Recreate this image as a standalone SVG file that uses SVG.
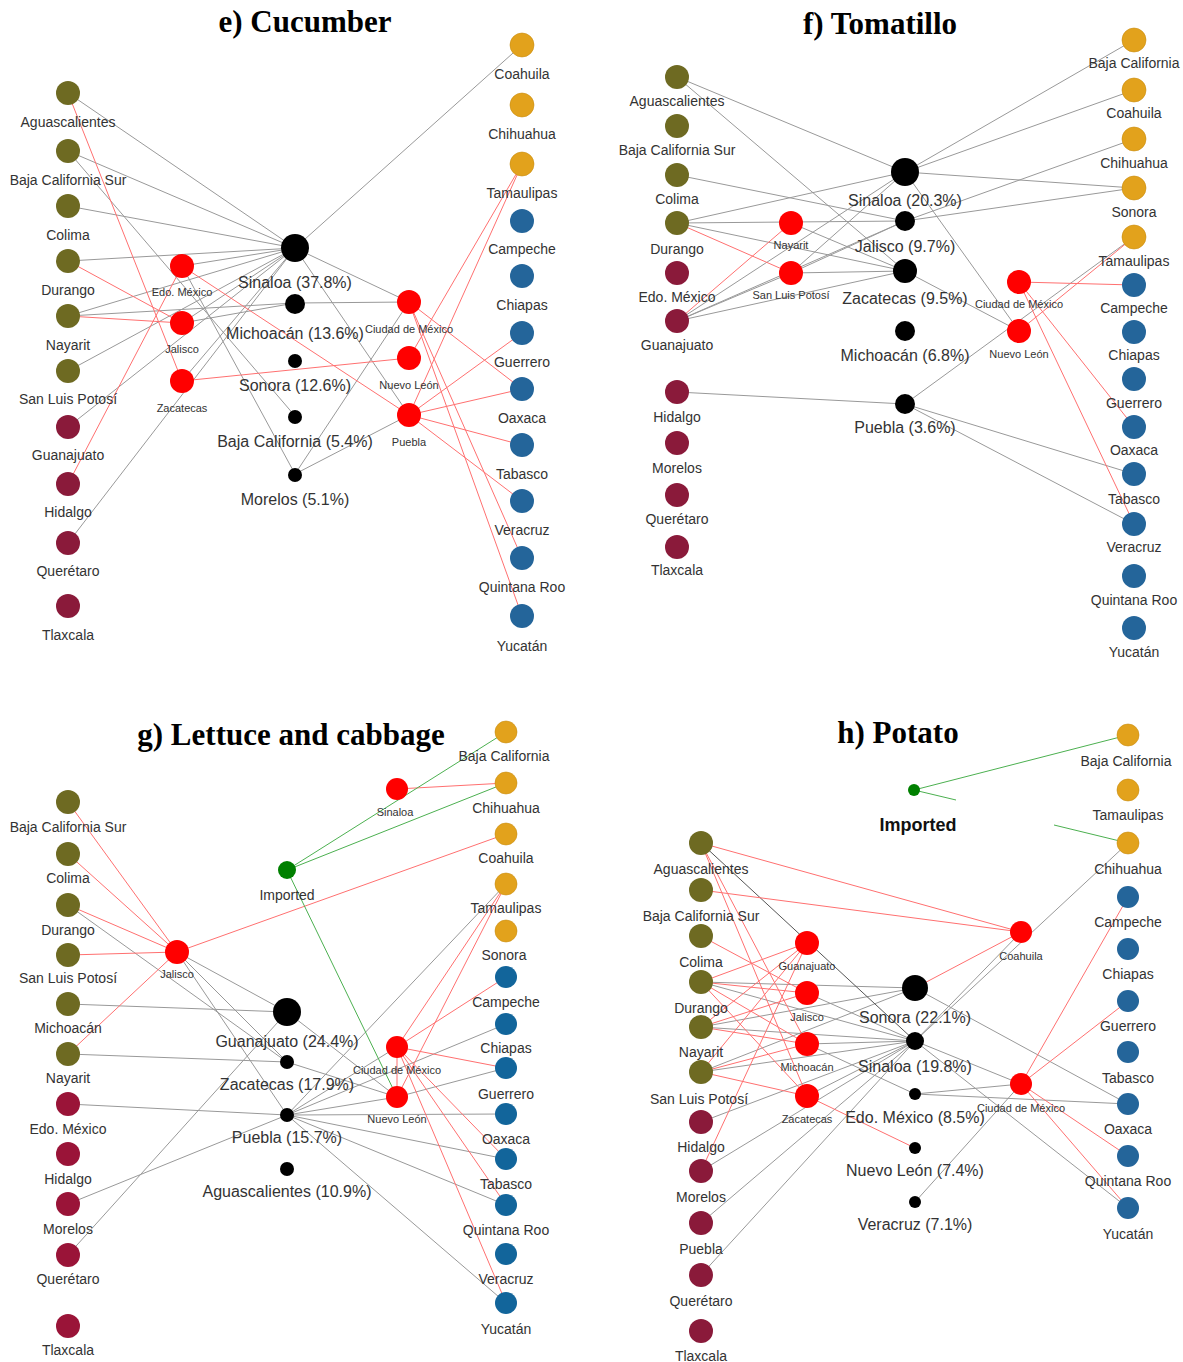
<svg xmlns="http://www.w3.org/2000/svg" width="1183" height="1362" viewBox="0 0 1183 1362">
<style>
text{font-family:"Liberation Sans",Arial,sans-serif;fill:#333;text-anchor:middle}
.t{font-size:14px}.s{font-size:11px}.p{font-size:16px}
.h{font-family:"Liberation Serif","Times New Roman",serif;font-weight:bold;font-size:31px;fill:#000}
.imp{font-weight:bold;font-size:18px;fill:#111}
.o{fill:#6e6a22}.m{fill:#8a1a3a}.mg{fill:#9a1438}.y{fill:#e2a21c;stroke:#c98d10;stroke-width:0.6}.b{fill:#24659a}.bg{fill:#12659b}.r{fill:#ff0000}.k{fill:#000}.gn{fill:#008000}
.eg line{stroke:#999;stroke-width:1}
.er line{stroke:#ff7070;stroke-width:1}
.en line{stroke:#4cb050;stroke-width:1}
.ed line{stroke:#555;stroke-width:1}
</style>
<rect width="1183" height="1362" fill="#fff"/>
<g id="titles">
<text class="h" x="305" y="32">e) Cucumber</text>
<text class="h" x="880" y="34">f) Tomatillo</text>
<text class="h" x="291" y="745">g) Lettuce and cabbage</text>
<text class="h" x="898" y="743">h) Potato</text>
</g>
<g id="connectors">
<g id="e-edges">
<g class="eg">
<line x1="68" y1="93" x2="295" y2="248"/><line x1="68" y1="151" x2="295" y2="248"/><line x1="68" y1="151" x2="295" y2="416"/><line x1="68" y1="206" x2="295" y2="248"/><line x1="68" y1="261" x2="295" y2="248"/><line x1="68" y1="316" x2="295" y2="248"/><line x1="68" y1="316" x2="295" y2="303"/><line x1="68" y1="371" x2="295" y2="248"/><line x1="68" y1="427" x2="295" y2="248"/><line x1="68" y1="543" x2="295" y2="248"/><line x1="182" y1="266" x2="295" y2="248"/><line x1="182" y1="266" x2="295" y2="474"/><line x1="182" y1="323" x2="295" y2="248"/><line x1="182" y1="323" x2="295" y2="303"/><line x1="182" y1="381" x2="295" y2="248"/><line x1="295" y1="248" x2="522" y2="45"/><line x1="295" y1="248" x2="409" y2="302"/><line x1="295" y1="248" x2="409" y2="415"/><line x1="295" y1="303" x2="409" y2="302"/><line x1="295" y1="474" x2="409" y2="302"/><line x1="295" y1="474" x2="409" y2="415"/>
</g>
<g class="er">
<line x1="68" y1="93" x2="182" y2="381"/><line x1="68" y1="261" x2="182" y2="323"/><line x1="68" y1="316" x2="182" y2="323"/><line x1="68" y1="484" x2="182" y2="266"/><line x1="182" y1="266" x2="409" y2="415"/><line x1="182" y1="381" x2="409" y2="358"/><line x1="409" y1="358" x2="522" y2="164"/><line x1="409" y1="415" x2="522" y2="164"/><line x1="409" y1="415" x2="522" y2="333"/><line x1="409" y1="415" x2="522" y2="389"/><line x1="409" y1="415" x2="522" y2="445"/><line x1="409" y1="415" x2="522" y2="501"/><line x1="409" y1="302" x2="522" y2="389"/><line x1="409" y1="302" x2="522" y2="558"/><line x1="409" y1="302" x2="522" y2="616"/>
</g>
</g>
<g id="f-edges">
<g class="eg">
<line x1="677" y1="77" x2="905" y2="172"/><line x1="677" y1="77" x2="905" y2="271"/><line x1="677" y1="175" x2="905" y2="221"/><line x1="677" y1="223" x2="905" y2="172"/><line x1="677" y1="223" x2="905" y2="221"/><line x1="677" y1="223" x2="905" y2="271"/><line x1="677" y1="321" x2="905" y2="172"/><line x1="677" y1="321" x2="905" y2="221"/><line x1="677" y1="321" x2="791" y2="273"/><line x1="677" y1="321" x2="905" y2="271"/><line x1="791" y1="223" x2="905" y2="271"/><line x1="791" y1="273" x2="905" y2="172"/><line x1="791" y1="273" x2="905" y2="221"/><line x1="791" y1="273" x2="905" y2="271"/><line x1="677" y1="392" x2="905" y2="404"/><line x1="905" y1="172" x2="1134" y2="40"/><line x1="905" y1="172" x2="1134" y2="90"/><line x1="905" y1="172" x2="1134" y2="188"/><line x1="905" y1="172" x2="1019" y2="331"/><line x1="905" y1="221" x2="1134" y2="139"/><line x1="905" y1="221" x2="1134" y2="188"/><line x1="905" y1="271" x2="1019" y2="331"/><line x1="905" y1="404" x2="1134" y2="237"/><line x1="905" y1="404" x2="1134" y2="474"/><line x1="905" y1="404" x2="1134" y2="524"/>
</g>
<g class="er">
<line x1="677" y1="223" x2="791" y2="273"/><line x1="677" y1="321" x2="791" y2="223"/><line x1="1019" y1="282" x2="1134" y2="285"/><line x1="1019" y1="282" x2="1134" y2="427"/><line x1="1019" y1="282" x2="1134" y2="524"/><line x1="1019" y1="331" x2="1134" y2="237"/>
</g>
</g>
<g id="g-edges">
<g class="eg">
<line x1="68" y1="905" x2="287" y2="1062"/><line x1="68" y1="1004" x2="287" y2="1012"/><line x1="68" y1="1054" x2="287" y2="1062"/><line x1="68" y1="1104" x2="287" y2="1115"/><line x1="68" y1="1204" x2="287" y2="1115"/><line x1="68" y1="1255" x2="287" y2="1012"/><line x1="177" y1="952" x2="287" y2="1012"/><line x1="177" y1="952" x2="287" y2="1062"/><line x1="177" y1="952" x2="287" y2="1115"/><line x1="287" y1="1012" x2="397" y2="1097"/><line x1="287" y1="1062" x2="397" y2="1097"/><line x1="506" y1="884" x2="287" y2="1115"/><line x1="287" y1="1115" x2="397" y2="1047"/><line x1="287" y1="1115" x2="397" y2="1097"/><line x1="287" y1="1115" x2="506" y2="1024"/><line x1="397" y1="1097" x2="506" y2="1068"/><line x1="287" y1="1115" x2="506" y2="1114"/><line x1="287" y1="1115" x2="506" y2="1159"/><line x1="287" y1="1115" x2="506" y2="1205"/><line x1="287" y1="1115" x2="506" y2="1303"/>
</g>
<g class="er">
<line x1="68" y1="802" x2="177" y2="952"/><line x1="68" y1="854" x2="177" y2="952"/><line x1="68" y1="905" x2="177" y2="952"/><line x1="68" y1="955" x2="177" y2="952"/><line x1="68" y1="1054" x2="177" y2="952"/><line x1="177" y1="952" x2="506" y2="834"/><line x1="397" y1="789" x2="506" y2="783"/><line x1="397" y1="1047" x2="397" y2="1097"/><line x1="397" y1="1047" x2="506" y2="977"/><line x1="397" y1="1047" x2="506" y2="1068"/><line x1="397" y1="1047" x2="506" y2="1159"/><line x1="397" y1="1047" x2="506" y2="1205"/><line x1="397" y1="1047" x2="506" y2="1303"/><line x1="397" y1="1097" x2="506" y2="884"/><line x1="397" y1="1047" x2="506" y2="884"/>
</g>
<g class="en">
<line x1="287" y1="870" x2="506" y2="732"/><line x1="287" y1="870" x2="506" y2="783"/><line x1="287" y1="870" x2="397" y2="1097"/>
</g>
</g>
<g id="h-edges">
<g class="eg">
<line x1="701" y1="982" x2="915" y2="988"/><line x1="701" y1="982" x2="915" y2="1041"/><line x1="701" y1="1027" x2="915" y2="988"/><line x1="701" y1="1027" x2="915" y2="1041"/><line x1="701" y1="1072" x2="915" y2="988"/><line x1="701" y1="1072" x2="915" y2="1041"/><line x1="701" y1="1122" x2="915" y2="1041"/><line x1="701" y1="1171" x2="915" y2="1041"/><line x1="701" y1="1223" x2="915" y2="1041"/><line x1="701" y1="1275" x2="915" y2="1041"/><line x1="807" y1="993" x2="915" y2="1041"/><line x1="807" y1="1044" x2="915" y2="1041"/><line x1="807" y1="1044" x2="915" y2="1094"/><line x1="807" y1="1096" x2="915" y2="1041"/><line x1="915" y1="988" x2="1128" y2="1104"/><line x1="915" y1="1041" x2="1021" y2="932"/><line x1="915" y1="1041" x2="1128" y2="843"/><line x1="915" y1="1041" x2="1021" y2="1084"/><line x1="915" y1="1041" x2="1128" y2="1208"/><line x1="915" y1="1094" x2="1021" y2="1084"/><line x1="915" y1="1094" x2="1128" y2="1104"/><line x1="915" y1="1202" x2="1021" y2="1084"/>
</g>
<g class="ed">
<line x1="701" y1="843" x2="915" y2="1041"/>
</g>
<g class="er">
<line x1="701" y1="843" x2="1021" y2="932"/><line x1="701" y1="890" x2="1021" y2="932"/><line x1="701" y1="843" x2="807" y2="1044"/><line x1="701" y1="843" x2="807" y2="1096"/><line x1="701" y1="936" x2="807" y2="993"/><line x1="701" y1="982" x2="807" y2="943"/><line x1="701" y1="982" x2="807" y2="993"/><line x1="701" y1="982" x2="807" y2="1044"/><line x1="701" y1="982" x2="807" y2="1096"/><line x1="701" y1="1027" x2="807" y2="943"/><line x1="701" y1="1027" x2="807" y2="993"/><line x1="701" y1="1027" x2="807" y2="1044"/><line x1="701" y1="1072" x2="807" y2="943"/><line x1="701" y1="1072" x2="807" y2="1044"/><line x1="701" y1="1072" x2="807" y2="1096"/><line x1="701" y1="1171" x2="807" y2="943"/><line x1="807" y1="1096" x2="915" y2="1148"/><line x1="915" y1="988" x2="1021" y2="932"/><line x1="1021" y1="1084" x2="1128" y2="897"/><line x1="1021" y1="1084" x2="1128" y2="1001"/><line x1="1021" y1="1084" x2="1128" y2="1156"/><line x1="1021" y1="1084" x2="1128" y2="1208"/>
</g>
<g class="en">
<line x1="914" y1="790" x2="1128" y2="735"/><line x1="914" y1="790" x2="956" y2="800"/><line x1="1054" y1="825" x2="1128" y2="843"/>
</g>
</g>
</g>
<g id="e-nodes">
<g id="e-agu"><circle class="o" cx="68" cy="93" r="12"/><text class="t" x="68" y="127">Aguascalientes</text></g>
<g id="e-bcs"><circle class="o" cx="68" cy="151" r="12"/><text class="t" x="68" y="185">Baja California Sur</text></g>
<g id="e-col"><circle class="o" cx="68" cy="206" r="12"/><text class="t" x="68" y="240">Colima</text></g>
<g id="e-dur"><circle class="o" cx="68" cy="261" r="12"/><text class="t" x="68" y="295">Durango</text></g>
<g id="e-nay"><circle class="o" cx="68" cy="316" r="12"/><text class="t" x="68" y="350">Nayarit</text></g>
<g id="e-slp"><circle class="o" cx="68" cy="371" r="12"/><text class="t" x="68" y="404">San Luis Potosí</text></g>
<g id="e-gto"><circle class="m" cx="68" cy="427" r="12"/><text class="t" x="68" y="460">Guanajuato</text></g>
<g id="e-hgo"><circle class="m" cx="68" cy="484" r="12"/><text class="t" x="68" y="517">Hidalgo</text></g>
<g id="e-qro"><circle class="m" cx="68" cy="543" r="12"/><text class="t" x="68" y="576">Querétaro</text></g>
<g id="e-tlx"><circle class="m" cx="68" cy="606" r="12"/><text class="t" x="68" y="640">Tlaxcala</text></g>
<g id="e-mex"><circle class="r" cx="182" cy="266" r="12"/><text class="s" x="182" y="296">Edo. México</text></g>
<g id="e-jal"><circle class="r" cx="182" cy="323" r="12"/><text class="s" x="182" y="353">Jalisco</text></g>
<g id="e-zac"><circle class="r" cx="182" cy="381" r="12"/><text class="s" x="182" y="412">Zacatecas</text></g>
<g id="e-sin"><circle class="k" cx="295" cy="248" r="14"/><text class="p" x="295" y="288">Sinaloa (37.8%)</text></g>
<g id="e-mic"><circle class="k" cx="295" cy="304" r="10"/><text class="p" x="295" y="339">Michoacán (13.6%)</text></g>
<g id="e-son"><circle class="k" cx="295" cy="361" r="7"/><text class="p" x="295" y="391">Sonora (12.6%)</text></g>
<g id="e-bc"><circle class="k" cx="295" cy="417" r="7"/><text class="p" x="295" y="447">Baja California (5.4%)</text></g>
<g id="e-mor"><circle class="k" cx="295" cy="475" r="7"/><text class="p" x="295" y="505">Morelos (5.1%)</text></g>
<g id="e-cdmx"><circle class="r" cx="409" cy="302" r="12"/><text class="s" x="409" y="333">Ciudad de México</text></g>
<g id="e-nl"><circle class="r" cx="409" cy="358" r="12"/><text class="s" x="409" y="389">Nuevo León</text></g>
<g id="e-pue"><circle class="r" cx="409" cy="415" r="12"/><text class="s" x="409" y="446">Puebla</text></g>
<g id="e-coa"><circle class="y" cx="522" cy="45" r="12"/><text class="t" x="522" y="79">Coahuila</text></g>
<g id="e-chh"><circle class="y" cx="522" cy="105" r="12"/><text class="t" x="522" y="139">Chihuahua</text></g>
<g id="e-tam"><circle class="y" cx="522" cy="164" r="12"/><text class="t" x="522" y="198">Tamaulipas</text></g>
<g id="e-cam"><circle class="b" cx="522" cy="221" r="12"/><text class="t" x="522" y="254">Campeche</text></g>
<g id="e-chp"><circle class="b" cx="522" cy="276" r="12"/><text class="t" x="522" y="310">Chiapas</text></g>
<g id="e-gro"><circle class="b" cx="522" cy="333" r="12"/><text class="t" x="522" y="367">Guerrero</text></g>
<g id="e-oax"><circle class="b" cx="522" cy="389" r="12"/><text class="t" x="522" y="423">Oaxaca</text></g>
<g id="e-tab"><circle class="b" cx="522" cy="445" r="12"/><text class="t" x="522" y="479">Tabasco</text></g>
<g id="e-ver"><circle class="b" cx="522" cy="501" r="12"/><text class="t" x="522" y="535">Veracruz</text></g>
<g id="e-roo"><circle class="b" cx="522" cy="558" r="12"/><text class="t" x="522" y="592">Quintana Roo</text></g>
<g id="e-yuc"><circle class="b" cx="522" cy="616" r="12"/><text class="t" x="522" y="651">Yucatán</text></g>
</g>
<g id="f-nodes">
<g id="f-agu"><circle class="o" cx="677" cy="77" r="12"/><text class="t" x="677" y="106">Aguascalientes</text></g>
<g id="f-bcs"><circle class="o" cx="677" cy="126" r="12"/><text class="t" x="677" y="155">Baja California Sur</text></g>
<g id="f-col"><circle class="o" cx="677" cy="175" r="12"/><text class="t" x="677" y="204">Colima</text></g>
<g id="f-dur"><circle class="o" cx="677" cy="223" r="12"/><text class="t" x="677" y="254">Durango</text></g>
<g id="f-mex"><circle class="m" cx="677" cy="273" r="12"/><text class="t" x="677" y="302">Edo. México</text></g>
<g id="f-gto"><circle class="m" cx="677" cy="321" r="12"/><text class="t" x="677" y="350">Guanajuato</text></g>
<g id="f-hgo"><circle class="m" cx="677" cy="392" r="12"/><text class="t" x="677" y="422">Hidalgo</text></g>
<g id="f-mor"><circle class="m" cx="677" cy="443" r="12"/><text class="t" x="677" y="473">Morelos</text></g>
<g id="f-qro"><circle class="m" cx="677" cy="495" r="12"/><text class="t" x="677" y="524">Querétaro</text></g>
<g id="f-tlx"><circle class="m" cx="677" cy="547" r="12"/><text class="t" x="677" y="575">Tlaxcala</text></g>
<g id="f-nay"><circle class="r" cx="791" cy="223" r="12"/><text class="s" x="791" y="249">Nayarit</text></g>
<g id="f-slp"><circle class="r" cx="791" cy="273" r="12"/><text class="s" x="791" y="299">San Luis Potosí</text></g>
<g id="f-sin"><circle class="k" cx="905" cy="172" r="14"/><text class="p" x="905" y="206">Sinaloa (20.3%)</text></g>
<g id="f-jal"><circle class="k" cx="905" cy="221" r="10"/><text class="p" x="905" y="252">Jalisco (9.7%)</text></g>
<g id="f-zac"><circle class="k" cx="905" cy="271" r="12"/><text class="p" x="905" y="304">Zacatecas (9.5%)</text></g>
<g id="f-mic"><circle class="k" cx="905" cy="331" r="10"/><text class="p" x="905" y="361">Michoacán (6.8%)</text></g>
<g id="f-pue"><circle class="k" cx="905" cy="404" r="10"/><text class="p" x="905" y="433">Puebla (3.6%)</text></g>
<g id="f-cdmx"><circle class="r" cx="1019" cy="282" r="12"/><text class="s" x="1019" y="308">Ciudad de México</text></g>
<g id="f-nl"><circle class="r" cx="1019" cy="331" r="12"/><text class="s" x="1019" y="358">Nuevo León</text></g>
<g id="f-bc"><circle class="y" cx="1134" cy="40" r="12"/><text class="t" x="1134" y="68">Baja California</text></g>
<g id="f-coa"><circle class="y" cx="1134" cy="90" r="12"/><text class="t" x="1134" y="118">Coahuila</text></g>
<g id="f-chh"><circle class="y" cx="1134" cy="139" r="12"/><text class="t" x="1134" y="168">Chihuahua</text></g>
<g id="f-son"><circle class="y" cx="1134" cy="188" r="12"/><text class="t" x="1134" y="217">Sonora</text></g>
<g id="f-tam"><circle class="y" cx="1134" cy="237" r="12"/><text class="t" x="1134" y="266">Tamaulipas</text></g>
<g id="f-cam"><circle class="b" cx="1134" cy="285" r="12"/><text class="t" x="1134" y="313">Campeche</text></g>
<g id="f-chp"><circle class="b" cx="1134" cy="332" r="12"/><text class="t" x="1134" y="360">Chiapas</text></g>
<g id="f-gro"><circle class="b" cx="1134" cy="379" r="12"/><text class="t" x="1134" y="408">Guerrero</text></g>
<g id="f-oax"><circle class="b" cx="1134" cy="427" r="12"/><text class="t" x="1134" y="455">Oaxaca</text></g>
<g id="f-tab"><circle class="b" cx="1134" cy="474" r="12"/><text class="t" x="1134" y="504">Tabasco</text></g>
<g id="f-ver"><circle class="b" cx="1134" cy="524" r="12"/><text class="t" x="1134" y="552">Veracruz</text></g>
<g id="f-roo"><circle class="b" cx="1134" cy="576" r="12"/><text class="t" x="1134" y="605">Quintana Roo</text></g>
<g id="f-yuc"><circle class="b" cx="1134" cy="628" r="12"/><text class="t" x="1134" y="657">Yucatán</text></g>
</g>
<g id="g-nodes">
<g id="g-bcs"><circle class="o" cx="68" cy="802" r="12"/><text class="t" x="68" y="832">Baja California Sur</text></g>
<g id="g-col"><circle class="o" cx="68" cy="854" r="12"/><text class="t" x="68" y="883">Colima</text></g>
<g id="g-dur"><circle class="o" cx="68" cy="905" r="12"/><text class="t" x="68" y="935">Durango</text></g>
<g id="g-slp"><circle class="o" cx="68" cy="955" r="12"/><text class="t" x="68" y="983">San Luis Potosí</text></g>
<g id="g-mic"><circle class="o" cx="68" cy="1004" r="12"/><text class="t" x="68" y="1033">Michoacán</text></g>
<g id="g-nay"><circle class="o" cx="68" cy="1054" r="12"/><text class="t" x="68" y="1083">Nayarit</text></g>
<g id="g-mex"><circle class="mg" cx="68" cy="1104" r="12"/><text class="t" x="68" y="1134">Edo. México</text></g>
<g id="g-hgo"><circle class="mg" cx="68" cy="1154" r="12"/><text class="t" x="68" y="1184">Hidalgo</text></g>
<g id="g-mor"><circle class="mg" cx="68" cy="1204" r="12"/><text class="t" x="68" y="1234">Morelos</text></g>
<g id="g-qro"><circle class="mg" cx="68" cy="1255" r="12"/><text class="t" x="68" y="1284">Querétaro</text></g>
<g id="g-tlx"><circle class="mg" cx="68" cy="1326" r="12"/><text class="t" x="68" y="1355">Tlaxcala</text></g>
<g id="g-jal"><circle class="r" cx="177" cy="952" r="12"/><text class="s" x="177" y="978">Jalisco</text></g>
<g id="g-imp"><circle class="gn" cx="287" cy="870" r="9"/><text class="t" x="287" y="900">Imported</text></g>
<g id="g-gto"><circle class="k" cx="287" cy="1012" r="14"/><text class="p" x="287" y="1047">Guanajuato (24.4%)</text></g>
<g id="g-zac"><circle class="k" cx="287" cy="1062" r="7"/><text class="p" x="287" y="1090">Zacatecas (17.9%)</text></g>
<g id="g-pue"><circle class="k" cx="287" cy="1115" r="7"/><text class="p" x="287" y="1143">Puebla (15.7%)</text></g>
<g id="g-agu"><circle class="k" cx="287" cy="1169" r="7"/><text class="p" x="287" y="1197">Aguascalientes (10.9%)</text></g>
<g id="g-sin"><circle class="r" cx="397" cy="789" r="11"/><text class="s" x="395" y="816">Sinaloa</text></g>
<g id="g-cdmx"><circle class="r" cx="397" cy="1047" r="11"/><text class="s" x="397" y="1074">Ciudad de México</text></g>
<g id="g-nl"><circle class="r" cx="397" cy="1097" r="11"/><text class="s" x="397" y="1123">Nuevo León</text></g>
<g id="g-bc"><circle class="y" cx="506" cy="732" r="11"/><text class="t" x="504" y="761">Baja California</text></g>
<g id="g-chh"><circle class="y" cx="506" cy="783" r="11"/><text class="t" x="506" y="813">Chihuahua</text></g>
<g id="g-coa"><circle class="y" cx="506" cy="834" r="11"/><text class="t" x="506" y="863">Coahuila</text></g>
<g id="g-tam"><circle class="y" cx="506" cy="884" r="11"/><text class="t" x="506" y="913">Tamaulipas</text></g>
<g id="g-son"><circle class="y" cx="506" cy="931" r="11"/><text class="t" x="504" y="960">Sonora</text></g>
<g id="g-cam"><circle class="bg" cx="506" cy="977" r="11"/><text class="t" x="506" y="1007">Campeche</text></g>
<g id="g-chp"><circle class="bg" cx="506" cy="1024" r="11"/><text class="t" x="506" y="1053">Chiapas</text></g>
<g id="g-gro"><circle class="bg" cx="506" cy="1068" r="11"/><text class="t" x="506" y="1099">Guerrero</text></g>
<g id="g-oax"><circle class="bg" cx="506" cy="1114" r="11"/><text class="t" x="506" y="1144">Oaxaca</text></g>
<g id="g-tab"><circle class="bg" cx="506" cy="1159" r="11"/><text class="t" x="506" y="1189">Tabasco</text></g>
<g id="g-roo"><circle class="bg" cx="506" cy="1205" r="11"/><text class="t" x="506" y="1235">Quintana Roo</text></g>
<g id="g-ver"><circle class="bg" cx="506" cy="1254" r="11"/><text class="t" x="506" y="1284">Veracruz</text></g>
<g id="g-yuc"><circle class="bg" cx="506" cy="1303" r="11"/><text class="t" x="506" y="1334">Yucatán</text></g>
</g>
<g id="h-nodes">
<g id="h-agu"><circle class="o" cx="701" cy="843" r="12"/><text class="t" x="701" y="874">Aguascalientes</text></g>
<g id="h-bcs"><circle class="o" cx="701" cy="890" r="12"/><text class="t" x="701" y="921">Baja California Sur</text></g>
<g id="h-col"><circle class="o" cx="701" cy="936" r="12"/><text class="t" x="701" y="967">Colima</text></g>
<g id="h-dur"><circle class="o" cx="701" cy="982" r="12"/><text class="t" x="701" y="1013">Durango</text></g>
<g id="h-nay"><circle class="o" cx="701" cy="1027" r="12"/><text class="t" x="701" y="1057">Nayarit</text></g>
<g id="h-slp"><circle class="o" cx="701" cy="1072" r="12"/><text class="t" x="699" y="1104">San Luis Potosí</text></g>
<g id="h-hgo"><circle class="m" cx="701" cy="1122" r="12"/><text class="t" x="701" y="1152">Hidalgo</text></g>
<g id="h-mor"><circle class="m" cx="701" cy="1171" r="12"/><text class="t" x="701" y="1202">Morelos</text></g>
<g id="h-pue"><circle class="m" cx="701" cy="1223" r="12"/><text class="t" x="701" y="1254">Puebla</text></g>
<g id="h-qro"><circle class="m" cx="701" cy="1275" r="12"/><text class="t" x="701" y="1306">Querétaro</text></g>
<g id="h-tlx"><circle class="m" cx="701" cy="1331" r="12"/><text class="t" x="701" y="1361">Tlaxcala</text></g>
<g id="h-gto"><circle class="r" cx="807" cy="943" r="12"/><text class="s" x="807" y="970">Guanajuato</text></g>
<g id="h-jal"><circle class="r" cx="807" cy="993" r="12"/><text class="s" x="807" y="1021">Jalisco</text></g>
<g id="h-mic"><circle class="r" cx="807" cy="1044" r="12"/><text class="s" x="807" y="1071">Michoacán</text></g>
<g id="h-zac"><circle class="r" cx="807" cy="1096" r="12"/><text class="s" x="807" y="1123">Zacatecas</text></g>
<g id="h-imp"><circle class="gn" cx="914" cy="790" r="6"/><text class="imp" x="918" y="831">Imported</text></g>
<g id="h-son"><circle class="k" cx="915" cy="988" r="13"/><text class="p" x="915" y="1023">Sonora (22.1%)</text></g>
<g id="h-sin"><circle class="k" cx="915" cy="1041" r="9"/><text class="p" x="915" y="1072">Sinaloa (19.8%)</text></g>
<g id="h-mex"><circle class="k" cx="915" cy="1094" r="6"/><text class="p" x="915" y="1123">Edo. México (8.5%)</text></g>
<g id="h-nl"><circle class="k" cx="915" cy="1148" r="6"/><text class="p" x="915" y="1176">Nuevo León (7.4%)</text></g>
<g id="h-ver"><circle class="k" cx="915" cy="1202" r="6"/><text class="p" x="915" y="1230">Veracruz (7.1%)</text></g>
<g id="h-coa"><circle class="r" cx="1021" cy="932" r="11"/><text class="s" x="1021" y="960">Coahuila</text></g>
<g id="h-cdmx"><circle class="r" cx="1021" cy="1084" r="11"/><text class="s" x="1021" y="1112">Ciudad de México</text></g>
<g id="h-bc"><circle class="y" cx="1128" cy="735" r="11"/><text class="t" x="1126" y="766">Baja California</text></g>
<g id="h-tam"><circle class="y" cx="1128" cy="790" r="11"/><text class="t" x="1128" y="820">Tamaulipas</text></g>
<g id="h-chh"><circle class="y" cx="1128" cy="843" r="11"/><text class="t" x="1128" y="874">Chihuahua</text></g>
<g id="h-cam"><circle class="b" cx="1128" cy="897" r="11"/><text class="t" x="1128" y="927">Campeche</text></g>
<g id="h-chp"><circle class="b" cx="1128" cy="949" r="11"/><text class="t" x="1128" y="979">Chiapas</text></g>
<g id="h-gro"><circle class="b" cx="1128" cy="1001" r="11"/><text class="t" x="1128" y="1031">Guerrero</text></g>
<g id="h-tab"><circle class="b" cx="1128" cy="1052" r="11"/><text class="t" x="1128" y="1083">Tabasco</text></g>
<g id="h-oax"><circle class="b" cx="1128" cy="1104" r="11"/><text class="t" x="1128" y="1134">Oaxaca</text></g>
<g id="h-roo"><circle class="b" cx="1128" cy="1156" r="11"/><text class="t" x="1128" y="1186">Quintana Roo</text></g>
<g id="h-yuc"><circle class="b" cx="1128" cy="1208" r="11"/><text class="t" x="1128" y="1239">Yucatán</text></g>
</g>
</svg>
